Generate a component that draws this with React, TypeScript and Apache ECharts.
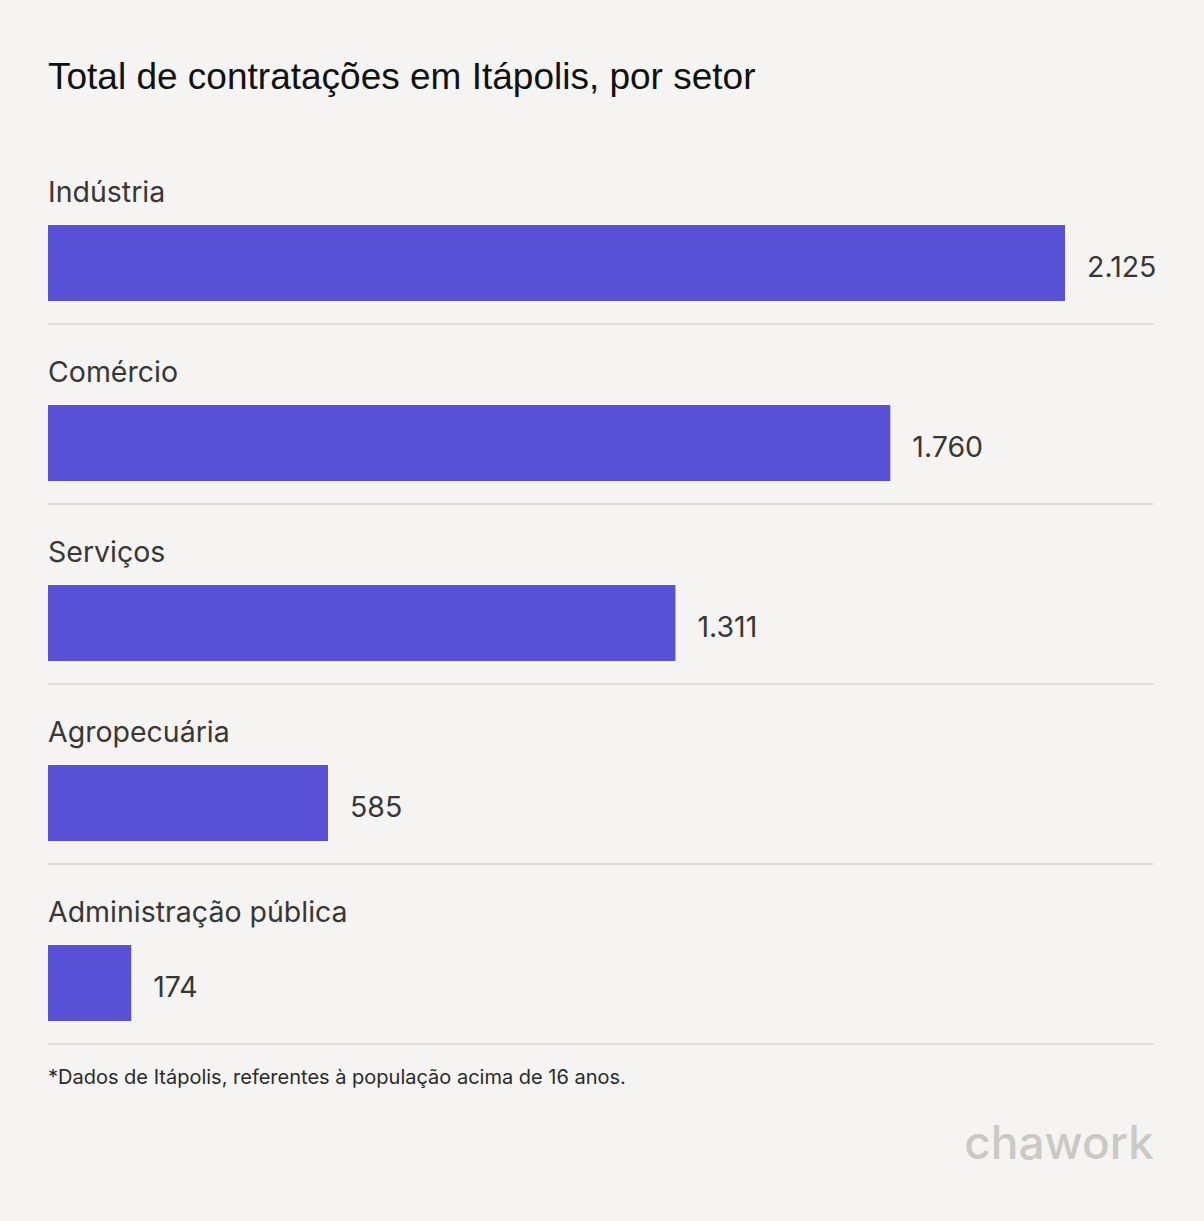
import React, { useEffect, useRef } from "react";
import * as echarts from "echarts";

const titleText = "Total de contratações em Itápolis, por setor";
const footnote = "*Dados de Itápolis, referentes à população acima de 16 anos.";
const brand = "chawork";
const categories = ["Indústria", "Comércio", "Serviços", "Agropecuária", "Administração pública"];
const values = [2125, 1760, 1311, 585, 174];

const BG = "#f5f4f2";
const BAR = "#5851d6";
const TEXT = "#383735";

// plot area runs to x=1154 while the largest bar ends at x=1065 (1017 px for 2125)
const GRID_W = 1106;
const BAR_SPAN = 1017;

function fmt(v: number): string {
  const s = String(Math.round(v));
  return s.replace(/\B(?=(\d{3})+(?!\d))/g, ".");
}

export default function App() {
  const ref = useRef<HTMLDivElement>(null);
  useEffect(() => {
    document.body.style.margin = "0";
    document.body.style.background = BG;
    const chart = echarts.init(ref.current!, null, { renderer: "svg" });
    const maxVal = Math.max(...values);
    chart.setOption({
      animation: false,
      backgroundColor: BG,
      title: {
        text: titleText,
        left: 43,
        top: 49,
        textStyle: {
          fontFamily: "Liberation Sans",
          fontSize: 37,
          fontWeight: "normal",
          color: "#111111",
          lineHeight: 44,
        },
      },
      grid: { left: 48, top: 144, width: GRID_W, height: 900 },
      xAxis: {
        type: "value",
        min: 0,
        max: (maxVal * GRID_W) / BAR_SPAN,
        show: false,
      },
      yAxis: {
        type: "category",
        data: categories,
        inverse: true,
        z: 10,
        axisLine: { show: false },
        axisTick: { show: false },
        splitLine: {
          show: true,
          lineStyle: {
            color: ["rgba(0,0,0,0)", "#e2e0dc", "#e2e0dc", "#e2e0dc", "#e2e0dc", "#e2e0dc"],
            width: 2,
          },
        },
        axisLabel: {
          inside: true,
          margin: 0,
          align: "left",
          verticalAlign: "middle",
          formatter: (v: string) => "{n|" + v + "}",
          rich: {
            n: {
              fontFamily: "Inter",
              fontSize: 28.5,
              color: TEXT,
              lineHeight: 34,
              padding: [0, 0, 86, 0],
            },
          },
        },
      },
      series: [
        {
          type: "bar",
          name: "spacer",
          data: categories.map(() => "-"),
          barWidth: 76,
          barGap: "-23.68%",
          silent: true,
        },
        {
          type: "bar",
          name: "Contratações",
          data: values,
          barWidth: 76,
          barGap: "-23.68%",
          itemStyle: { color: BAR },
          label: {
            show: true,
            position: "right",
            distance: 22,
            offset: [0, 3],
            fontFamily: "Inter",
            fontSize: 28.5,
            color: TEXT,
            formatter: (p: any) => fmt(p.value),
          },
        },
      ],
      graphic: [
        {
          type: "text",
          left: 48,
          top: 1067,
          style: {
            text: footnote,
            font: "20px Inter",
            fill: "#2a2a2a",
          },
        },
        {
          type: "text",
          right: 50,
          top: 1119,
          style: {
            text: brand,
            font: "500 46px Inter",
            fill: "#cbc9c3",
          },
        },
      ],
    });
    return () => chart.dispose();
  }, []);
  return <div ref={ref} style={{ width: 1204, height: 1221 }} />;
}
